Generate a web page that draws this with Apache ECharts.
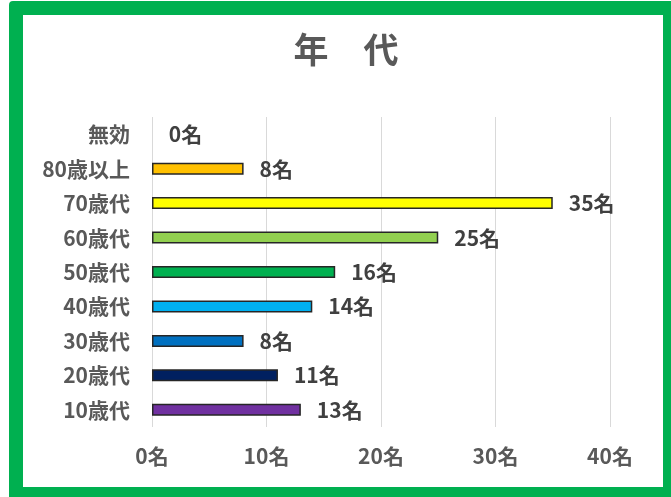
<!DOCTYPE html>
<html>
<head>
<meta charset="utf-8">
<script src="https://cdn.jsdelivr.net/npm/echarts@6/dist/echarts.min.js"></script>
<style>
    html, body { margin: 0; padding: 0; background: #fff; }
    #wrap { position: relative; width: 671px; height: 497px; overflow: hidden; }
    #chart { position: absolute; left: 0; top: 0; width: 671px; height: 497px; }
    #frame {
        position: absolute; left: 9px; top: 1px; width: 668px; height: 500px;
        box-sizing: border-box; border: 14px solid #00B050; border-radius: 4px;
        pointer-events: none;
    }
</style>
</head>
<body>
<div id="wrap">
    <div id="chart"></div>
    <div id="frame"></div>
</div>
<script>
    // 下から順 (ECharts のカテゴリ軸は下から描画)
    var categories = ['10歳代', '20歳代', '30歳代', '40歳代', '50歳代', '60歳代', '70歳代', '80歳以上', '無効'];
    var counts = [13, 11, 8, 14, 16, 25, 35, 8, 0];
    var barColors = ['#7030A0', '#002060', '#0070C0', '#00B0F0', '#00B050', '#92D050', '#FFFF00', '#FFC000', '#FFFFFF'];
    var xTicks = [0, 10, 20, 30, 40];

    var fontName = 'Noto Sans CJK JP';
    var chart = echarts.init(document.getElementById('chart'));

    var option = {
        animation: false,
        title: {
            text: '年　代',
            left: 341,
            top: 27,
            textAlign: 'center',
            textStyle: {
                fontFamily: fontName,
                fontSize: 35,
                fontWeight: 'bold',
                color: '#595959'
            }
        },
        grid: {
            left: 152,
            right: 61,
            top: 117,
            bottom: 70
        },
        xAxis: {
            type: 'value',
            min: xTicks[0],
            max: xTicks[xTicks.length - 1],
            interval: 10,
            axisLine: { show: false },
            axisTick: { show: false },
            splitLine: { lineStyle: { color: '#D9D9D9', width: 1 } },
            axisLabel: {
                margin: 19,
                fontFamily: fontName,
                fontSize: 21,
                fontWeight: 'bold',
                color: '#595959',
                formatter: '{value}名'
            }
        },
        yAxis: {
            type: 'category',
            data: categories,
            axisLine: { show: false },
            axisTick: { show: false },
            axisLabel: {
                margin: 22,
                fontFamily: fontName,
                fontSize: 21,
                fontWeight: 'bold',
                color: '#595959'
            }
        },
        series: [{
            type: 'bar',
            barWidth: 12,
            data: counts.map(function(v, i) {
                return {
                    value: v,
                    itemStyle: {
                        color: barColors[i],
                        borderColor: v > 0 ? '#262626' : 'transparent',
                        borderWidth: 1.5
                    }
                };
            }),
            label: {
                show: true,
                position: 'right',
                distance: 16,
                fontFamily: fontName,
                fontSize: 21,
                fontWeight: 'bold',
                color: '#404040',
                formatter: '{c}名'
            }
        }]
    };
    chart.setOption(option);
</script>
</body>
</html>
